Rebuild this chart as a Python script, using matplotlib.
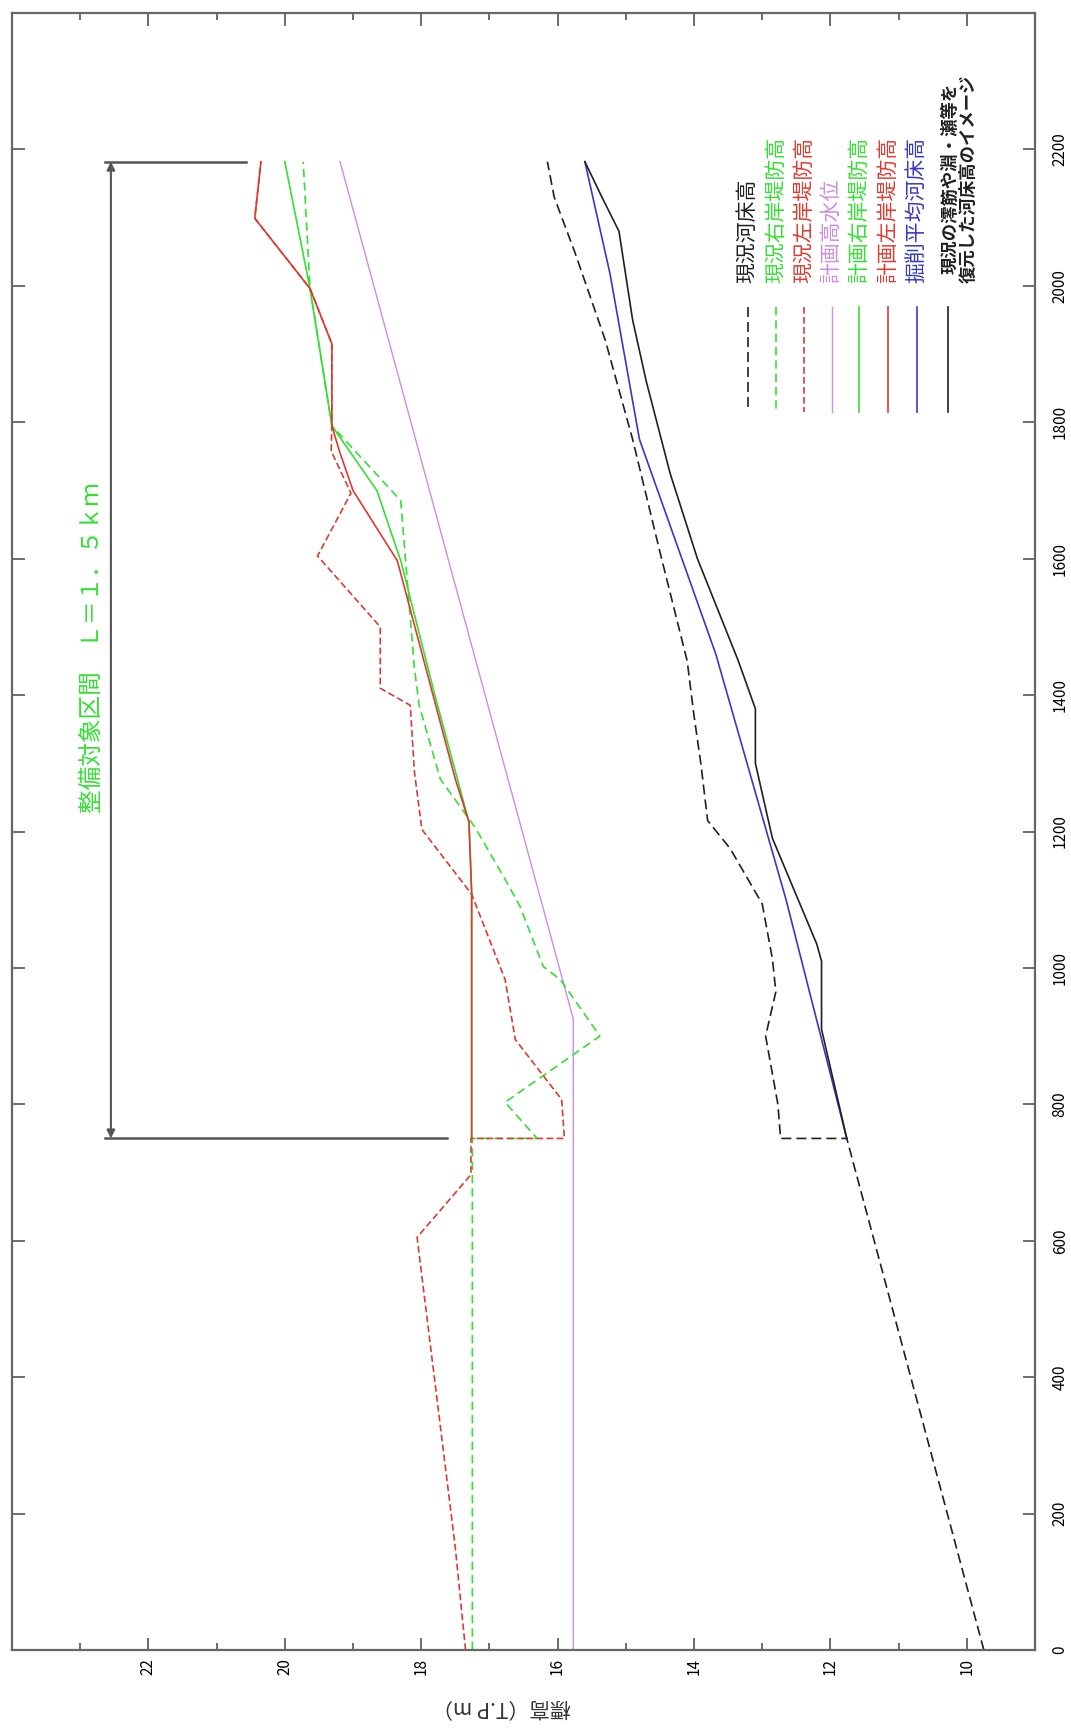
import matplotlib
matplotlib.use('Agg')
import matplotlib.pyplot as plt
from matplotlib.ticker import FixedLocator

plt.rcParams['font.family'] = ['Noto Sans CJK JP', 'DejaVu Sans']

# distance (m) / elevation (T.P m)
bed_now_d = [0, 750, 750, 800, 900, 965, 1013, 1094, 1175, 1216, 1300, 1370, 1450, 1610, 1775, 1920, 2050, 2130, 2182]
bed_now_z = [9.75, 11.76, 12.73, 12.77, 12.95, 12.8, 12.85, 13.0, 13.47, 13.8, 13.9, 14.0, 14.1, 14.5, 14.9, 15.3, 15.75, 16.05, 16.15]

right_now_d = [0, 750, 750, 803, 900, 983, 1002, 1090, 1130, 1206, 1277, 1385, 1440, 1685, 1795, 1996, 2182]
right_now_z = [17.25, 17.25, 16.3, 16.77, 15.38, 15.96, 16.21, 16.55, 16.77, 17.21, 17.72, 18.03, 18.1, 18.3, 19.31, 19.63, 19.73]

left_now_d = [0, 150, 605, 697, 750, 750, 807, 895, 983, 1108, 1203, 1288, 1385, 1410, 1500, 1604, 1696, 1758, 1795, 1915, 1996, 2099, 2182]
left_now_z = [17.35, 17.5, 18.06, 17.27, 17.27, 15.9, 15.94, 16.62, 16.77, 17.26, 17.99, 18.1, 18.16, 18.6, 18.6, 19.52, 19.03, 19.32, 19.31, 19.31, 19.63, 20.44, 20.35]

hwl_d = [0, 925, 2182]
hwl_z = [15.77, 15.77, 19.19]

right_plan_d = [750, 800, 1110, 1214, 1400, 1597, 1700, 1795, 1996, 2182]
right_plan_z = [17.26, 17.26, 17.26, 17.3, 17.8, 18.3, 18.65, 19.31, 19.63, 20.0]

left_plan_d = [750, 1110, 1214, 1277, 1597, 1700, 1758, 1795, 1915, 1996, 2099, 2182]
left_plan_z = [17.26, 17.26, 17.3, 17.5, 18.35, 19.0, 19.2, 19.31, 19.31, 19.63, 20.44, 20.35]

bed_plan_d = [750, 1100, 1460, 1775, 2017, 2182]
bed_plan_z = [11.76, 12.65, 13.68, 14.8, 15.23, 15.6]

bed_image_d = [750, 910, 1010, 1035, 1190, 1300, 1380, 1450, 1600, 1725, 1860, 1950, 2080, 2130, 2182]
bed_image_z = [11.76, 12.13, 12.13, 12.2, 12.85, 13.1, 13.1, 13.35, 13.95, 14.35, 14.7, 14.9, 15.1, 15.35, 15.6]

legend_labels = ['現況河床高', '現況右岸堤防高', '現況左岸堤防高', '計画高水位',
                 '計画右岸堤防高', '計画左岸堤防高', '掘削平均河床高',
                 '現況の澪筋や淵・瀬等を\n復元した河床高のイメージ']

GREEN = '#33e033'
RED = '#e03a30'
VIOLET = '#cc8ee0'
BLUE = '#3838c8'
BLACK = '#202020'

styles = [
    (BLACK, (0, (6, 3)), 1.2),
    (GREEN, (0, (5, 3)), 1.2),
    (RED, (0, (4, 2)), 1.2),
    (VIOLET, '-', 1.0),
    (GREEN, '-', 1.2),
    (RED, '-', 1.2),
    (BLUE, '-', 1.2),
    (BLACK, '-', 1.2),
]
series = [
    (bed_now_z, bed_now_d),
    (right_now_z, right_now_d),
    (left_now_z, left_now_d),
    (hwl_z, hwl_d),
    (right_plan_z, right_plan_d),
    (left_plan_z, left_plan_d),
    (bed_plan_z, bed_plan_d),
    (bed_image_z, bed_image_d),
]

W, H = 1071, 1729
fig = plt.figure(figsize=(W / 100, H / 100), dpi=100)
ax = fig.add_axes([12 / W, 79 / H, 1023 / W, 1637 / H])

# chart is drawn turned a quarter: elevation runs right to left, distance runs up
draw_order = [3, 1, 4, 2, 5, 0, 6, 7]
for i in draw_order:
    z, d = series[i]
    c, ls, lw = styles[i]
    ax.plot(z, d, color=c, linestyle=ls, linewidth=lw)

ax.set_xlim(24, 9)
ax.set_ylim(0, 2400)
ax.xaxis.set_major_locator(FixedLocator(list(range(10, 23, 2))))
ax.xaxis.set_minor_locator(FixedLocator(list(range(11, 24, 2))))
ax.yaxis.set_major_locator(FixedLocator(list(range(0, 2201, 200))))
ax.tick_params(axis='both', which='both', direction='in', top=True, right=True,
               left=True, bottom=True, labelleft=False, labelright=True,
               labelbottom=True, labeltop=False, color='#555555')
ax.tick_params(which='major', length=9, width=1.2)
ax.tick_params(which='minor', length=5, width=1.2)
ax.tick_params(axis='x', labelrotation=90, pad=6, labelsize=11)
ax.tick_params(axis='y', labelrotation=90, pad=12, labelsize=11)
for lab in ax.get_yticklabels():
    lab.set_verticalalignment('center')
for s in ax.spines.values():
    s.set_color('#666666')
    s.set_linewidth(1.6)

fig.text(502 / W, 1 - 1707 / H, '標高（T.P m）', rotation=180, ha='center',
         va='center', fontsize=15, color='#333333')

# section dimension
ax.annotate('', xy=(22.55, 2182), xytext=(22.55, 750),
            arrowprops=dict(arrowstyle='<|-|>', color='#555555', lw=1.5,
                            shrinkA=0, shrinkB=0, mutation_scale=12))
ax.plot([22.64, 20.57], [2182, 2182], color='#555555', lw=1.8)
ax.plot([22.64, 17.62], [750, 750], color='#555555', lw=1.8)
ax.text(22.8, 1470, '整備対象区間　Ｌ＝１．５ｋｍ', rotation=90, ha='center',
        va='center', color=GREEN, fontsize=17)

# legend, laid out in columns
leg_x = [747.7, 776, 804, 831.7, 859.3, 888.3, 916.7, 947.7]
for i, lab in enumerate(leg_x):
    c, ls, lw = styles[i]
    xf = (lab - 12) / 1023
    ax.plot([xf, xf], [(1650 - 307) / 1637, (1650 - 412) / 1637],
            transform=ax.transAxes, color=c, linestyle=ls, linewidth=lw)
    tc = c
    if i == 7:
        ax.text((960 - 12) / 1023, (1650 - 283) / 1637, legend_labels[i],
                transform=ax.transAxes, rotation=90, ha='center', va='bottom',
                color=tc, fontsize=12.5, fontweight='bold', linespacing=1.0)
    else:
        ax.text(xf, (1650 - 283) / 1637, legend_labels[i], transform=ax.transAxes,
                rotation=90, ha='center', va='bottom', color=tc, fontsize=15)

fig.savefig('out.png', dpi=100)
